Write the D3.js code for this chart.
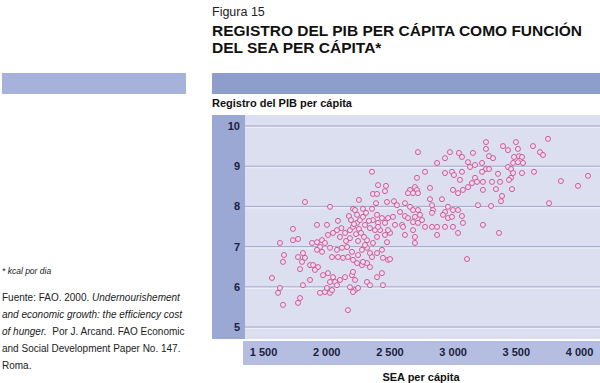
<!DOCTYPE html>
<html><head><meta charset="utf-8">
<script src="https://cdn.jsdelivr.net/npm/d3@7"></script>
<style>
html,body{margin:0;padding:0;background:#fff;}
svg{display:block;}
text{font-family:"Liberation Sans","DejaVu Sans",Arial,sans-serif;}
</style></head>
<body><svg id="c" width="600" height="383"></svg>
<script>
// ---- data ----
const seaTicks = [1500, 2000, 2500, 3000, 3500, 4000];
const seaTickLabels = ["1 500", "2 000", "2 500", "3 000", "3 500", "4 000"];
const pibTicks = [5, 6, 7, 8, 9, 10];
const pibTickLabels = ["5", "6", "7", "8", "9", "10"];
// [SEA per cápita (kcal/día), registro del PIB per cápita]
const observations = [
 [3264,9.60],[3264,9.43],[3399,9.50],[3438,9.40],[3501,9.60],[3517,9.43],[3636,9.50],[3691,9.35],
 [3715,9.28],[3755,9.68],[3288,9.25],[3320,9.20],[3486,9.23],[3525,9.25],[3549,9.23],[3478,9.08],
 [3517,9.10],[3557,9.08],[3233,9.08],[3438,8.98],[3462,8.93],[3264,8.93],[3233,8.86],[3288,8.93],
 [3644,8.86],[3549,8.83],[3478,8.83],[3359,8.81],[3462,8.71],[3446,8.66],[4071,8.76],[3857,8.63],
 [3992,8.51],[3312,8.61],[3375,8.61],[3240,8.61],[3343,8.43],[3470,8.43],[3240,8.41],[3391,8.26],
 [3383,8.13],[3763,8.08],[3304,8.01],[3240,7.54],[3367,7.34],
 [2726,9.35],[2979,9.35],[3050,9.33],[3074,9.23],[3161,9.33],[2940,9.20],[2877,9.08],[3122,9.10],
 [3138,8.98],[3177,9.03],[2782,8.86],[2940,8.83],[2995,8.86],[3011,8.78],[3074,8.86],[3058,8.66],
 [2718,8.71],[3177,8.71],[3193,8.61],[3153,8.58],[2821,8.46],[2663,8.41],[2702,8.48],[2718,8.41],
 [2687,8.33],[2647,8.33],[2726,8.33],[3003,8.41],[3043,8.33],[3082,8.41],[3122,8.48],[2821,8.18],
 [2916,8.18],[2623,8.08],[2663,7.99],[2687,7.91],[2726,7.91],[2963,7.99],[3003,7.91],[3043,7.91],
 [2940,7.86],[2837,8.03],[2845,7.91],[2837,7.84],[2584,7.86],[2623,7.76],[2647,7.71],[2742,7.79],
 [2702,7.74],[2758,7.66],[2687,7.61],[2726,7.59],[2924,7.79],[2963,7.71],[2995,7.74],[3074,7.76],
 [3082,7.59],[2600,7.54],[2608,7.49],[2782,7.49],[2837,7.49],[2877,7.49],[2940,7.49],[3003,7.49],
 [3201,8.03],
 [2877,7.29],[3043,7.34],[2623,7.29],[2687,7.41],[2702,7.24],[2702,7.09],[3114,6.69],
 [2362,8.86],[2410,8.53],[2473,8.51],[2465,8.38],[2370,8.31],[2402,8.31],[2259,8.16],[1832,8.11],
 [2030,7.99],[2394,8.08],[2481,8.11],[2536,8.13],[2560,8.03],[2212,7.94],[2291,7.94],[2362,7.94],
 [1737,7.44],[1927,7.54],[2006,7.54],[2093,7.64],[2180,7.76],[1634,7.09],[1737,7.16],[1666,6.79],
 [1658,6.62],[1777,6.74],[1816,6.84],[1809,6.62],[1872,6.54],[1896,6.54],[1935,6.49],[1888,7.09],
 [1927,7.11],[1967,7.16],[1951,6.99],[1990,7.09],[2014,7.29],[2054,7.34],[2085,7.41],[2109,7.24],
 [2149,7.34],[2188,7.41],[2212,7.49],[2244,7.59],[2267,7.66],[2291,7.74],[2244,7.79],[2030,6.97],
 [2085,6.92],[2125,6.97],[2165,6.99],[2204,6.87],[2046,6.74],[2093,6.74],[2133,6.72],[2172,6.74],
 [2212,6.67],[2252,6.79],[2283,6.92],[2323,6.97],[2346,6.84],[2370,7.09],[2402,7.24],[2426,7.41],
 [2465,7.59],[2489,7.71],[2528,7.74],[2544,7.54],[2505,7.34],[2481,7.11],[2402,6.84],[2441,6.92],
 [2449,6.72],[2489,6.67],[2244,6.59],[2283,6.54],[2323,6.59],[2346,6.49],[2505,6.69],[2465,7.29],
 [2489,7.41],[2402,7.79],[2441,7.71],[2370,7.66],[2410,7.59],[2307,7.54],[2346,7.46],[2386,7.41],
 [2323,7.16],[2307,7.04],[2362,6.74],[2291,6.62],[2410,7.49],[1777,7.19],[1832,6.72],[1793,6.44],
 [1927,6.92],[1967,6.87],[1911,6.42],[2228,7.91],
 [2196,7.66],[2220,7.56],[2259,7.44],[2236,7.31],[2188,7.21],[2157,7.14],[2275,7.34],[2299,7.24],
 [2252,7.14],[2315,7.84],[2338,7.64],[2120,7.46],
 [1571,6.22],[1634,5.97],[1619,5.85],[1658,5.55],[1793,5.72],[1777,5.60],[1816,6.04],[1872,6.17],
 [1951,5.85],[1990,5.87],[2030,5.85],[2006,5.97],[2046,5.92],[1975,6.29],[2014,6.34],[2054,6.24],
 [2030,6.12],[2070,6.12],[2109,6.17],[2085,6.04],[2149,6.24],[2204,6.29],[2212,6.37],[2188,5.99],
 [2228,5.92],[2252,5.97],[2212,5.87],[2172,5.42],[2323,6.12],[2346,6.04],[2402,6.24],[2441,6.34],
 [2449,6.04],[2228,6.17]
];

// ---- layout ----
const svg = d3.select("#c");
const plot = {x0: 245, x1: 600, y0: 115, y1: 339};
const x = d3.scaleLinear().domain([1500, 4000]).range([263, 579]);
const y = d3.scaleLinear().domain([5, 10]).range([327, 126]);

// header bars
svg.append("rect").attr("x", 2).attr("y", 73).attr("width", 184).attr("height", 21).attr("fill", "#a7b2da");
svg.append("rect").attr("x", 212).attr("y", 73).attr("width", 388).attr("height", 21).attr("fill", "#8d9dcc");

// titles
svg.append("text").attr("x", 212).attr("y", 16).attr("font-size", 12.5)
  .attr("font-family", "'Liberation Sans Narrow','DejaVu Sans Condensed',sans-serif")
  .attr("fill", "#222").text("Figura 15");
const tl = ["REGISTRO DEL PIB PER CÁPITA COMO FUNCIÓN", "DEL SEA PER CÁPITA*"];
tl.forEach((t, i) => svg.append("text").attr("x", 212).attr("y", 36 + i * 17)
  .attr("font-size", 15.5).attr("font-weight", "bold").attr("fill", "#111").text(t));

svg.append("text").attr("x", 212).attr("y", 107).attr("font-size", 11).attr("font-weight", "bold")
  .attr("fill", "#111").text("Registro del PIB per cápita");

// y band, plot bg, x band
svg.append("rect").attr("x", 212).attr("y", plot.y0).attr("width", plot.x0 - 212).attr("height", plot.y1 - plot.y0).attr("fill", "#9ba8d3");
svg.append("rect").attr("x", plot.x0).attr("y", plot.y0).attr("width", plot.x1 - plot.x0).attr("height", plot.y1 - plot.y0).attr("fill", "#dcdfef");
svg.append("rect").attr("x", 243).attr("y", 341).attr("width", 357).attr("height", 24).attr("fill", "#b5bee0");

// gridlines
const g = svg.append("g");
pibTicks.forEach(v => {
  g.append("line").attr("x1", plot.x0).attr("x2", plot.x1).attr("y1", y(v)).attr("y2", y(v))
    .attr("stroke", "#a1a8d0").attr("stroke-width", 1);
  g.append("line").attr("x1", plot.x0).attr("x2", plot.x1).attr("y1", y(v) + 1.5).attr("y2", y(v) + 1.5)
    .attr("stroke", "#eef0f8").attr("stroke-width", 1);
});

// y axis labels
const yAxis = d3.axisLeft(y).tickValues(pibTicks).tickFormat((d, i) => pibTickLabels[i]).tickSize(0).tickPadding(0);
const ya = svg.append("g").attr("transform", "translate(240,0)").call(yAxis);
ya.select(".domain").remove();
ya.selectAll("text").attr("font-size", 11).attr("font-weight", "bold").attr("fill", "#1c2040")
  .attr("font-family", "'Liberation Sans',Arial,sans-serif");

// x axis labels
const xAxis = d3.axisBottom(x).tickValues(seaTicks).tickFormat((d, i) => seaTickLabels[i]).tickSize(0).tickPadding(7);
const xa = svg.append("g").attr("transform", "translate(0,341)").call(xAxis);
xa.select(".domain").remove();
xa.selectAll("text").attr("font-size", 11).attr("font-weight", "bold").attr("fill", "#1c2040")
  .attr("font-family", "'Liberation Sans',Arial,sans-serif");

svg.append("text").attr("x", 421).attr("y", 381).attr("text-anchor", "middle").attr("font-size", 11)
  .attr("font-weight", "bold").attr("fill", "#111").text("SEA per cápita");

// points
svg.append("g").selectAll("circle").data(observations).join("circle")
  .attr("cx", d => x(d[0])).attr("cy", d => y(d[1])).attr("r", 2.5)
  .attr("fill", "#f1dcec").attr("stroke", "#cc5a9c").attr("stroke-width", 1);

// notes
svg.append("text").attr("x", 2).attr("y", 274).attr("font-size", 8.5).attr("font-style", "italic")
  .attr("fill", "#222").text("* kcal por dia");
const notes = [
  [["Fuente: FAO. 2000. ", false], ["Undernourishement", true]],
  [["and economic growth: the efficiency cost", true]],
  [["of hunger.", true], ["  Por J. Arcand. FAO Economic", false]],
  [["and Social Development Paper No. 147.", false]],
  [["Roma.", false]]
];
notes.forEach((ln, i) => {
  const t = svg.append("text").attr("x", 2).attr("y", 301 + i * 17).attr("font-size", 10).attr("fill", "#222");
  ln.forEach(([s, it]) => t.append("tspan").attr("font-style", it ? "italic" : "normal").attr("xml:space", "preserve").text(s));
});
</script></body></html>
